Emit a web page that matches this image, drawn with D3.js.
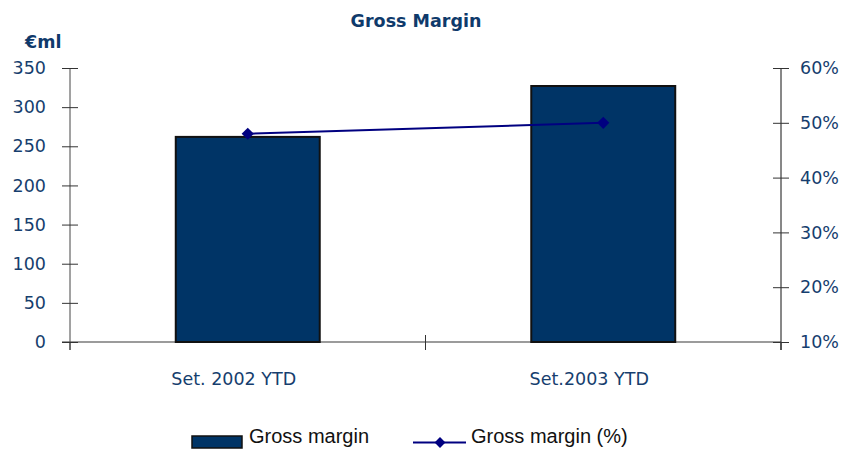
<!DOCTYPE html>
<html>
<head>
<meta charset="utf-8">
<script src="https://cdn.jsdelivr.net/npm/d3@7"></script>
<style>
  body { margin: 0; background: #fff; }
  svg text { font-family: "DejaVu Sans", Verdana, sans-serif; }
</style>
</head>
<body>
<div id="content"></div>
<script>
// chart values
const categories = ["Set. 2002 YTD", "Set.2003 YTD"];
const grossMargin = [262, 327];          // €ml
const grossMarginPct = [0.48, 0.50];     // %
const leftTicks = [0, 50, 100, 150, 200, 250, 300, 350];
const rightTicks = [0.1, 0.2, 0.3, 0.4, 0.5, 0.6];

var width = 843, height = 450;
var plot = { left: 70, right: 781, top: 68, bottom: 342 };
var textColor = "#163e6e";

var svg = d3.select("#content").append("svg")
    .attr("width", width)
    .attr("height", height);

var xCat = d3.scaleBand()
    .domain(categories)
    .range([plot.left, plot.right]);

var xBar = d3.scaleBand()
    .domain(categories)
    .range([plot.left, plot.right])
    .paddingInner(0.595)
    .paddingOuter(0.2975);

var yLeft = d3.scaleLinear().domain([0, 350]).range([plot.bottom, plot.top]);
var yRight = d3.scaleLinear().domain([0.1, 0.6]).range([plot.bottom, plot.top]);

// title
svg.append("text")
    .attr("x", 416).attr("y", 27)
    .attr("text-anchor", "middle")
    .style("font-weight", "bold")
    .style("font-size", "17.5px")
    .attr("fill", "#0f3a6b")
    .text("Gross Margin");

svg.append("text")
    .attr("x", 25).attr("y", 48)
    .style("font-weight", "bold")
    .style("font-size", "17.5px")
    .attr("fill", "#0f3a6b")
    .text("€ml");

// x axis line + category ticks
svg.append("line")
    .attr("x1", plot.left - 8).attr("x2", plot.right)
    .attr("y1", plot.bottom).attr("y2", plot.bottom)
    .attr("stroke", "#7a7a7a").attr("stroke-width", 1.5);

var bounds = categories.map(c => xCat(c)).concat([plot.right]);
svg.append("g").selectAll("line")
    .data(bounds)
    .enter().append("line")
    .attr("x1", d => d).attr("x2", d => d)
    .attr("y1", (d, i) => (i == 1 ? plot.bottom - 7 : plot.bottom))
    .attr("y2", plot.bottom + 8)
    .attr("stroke", "#333").attr("stroke-width", 1);

svg.append("g").selectAll("text")
    .data(categories)
    .enter().append("text")
    .attr("x", d => xCat(d) + xCat.bandwidth() / 2 - 14)
    .attr("y", 385)
    .attr("text-anchor", "middle")
    .style("font-size", "17.5px")
    .attr("fill", textColor)
    .text(d => d);

// bars
svg.append("g").selectAll("rect")
    .data(grossMargin)
    .enter().append("rect")
    .attr("x", (d, i) => xBar(categories[i]))
    .attr("width", xBar.bandwidth())
    .attr("y", d => yLeft(d))
    .attr("height", d => yLeft(0) - yLeft(d))
    .attr("fill", "#003466")
    .attr("stroke", "#111")
    .attr("stroke-width", 2);

// left axis
var leftAxis = svg.append("g")
    .attr("transform", "translate(" + plot.left + ",0)")
    .call(d3.axisLeft(yLeft).tickValues(leftTicks).tickSize(0).tickPadding(24));
leftAxis.select(".domain").attr("stroke", "#444").attr("d", "M0," + plot.top + "V" + (plot.bottom + 8));
leftAxis.selectAll(".tick line").attr("x1", -8).attr("x2", 8).attr("stroke", "#333");
leftAxis.selectAll(".tick text").style("font-size", "17.5px").attr("fill", textColor);

// right axis
var rightAxis = svg.append("g")
    .attr("transform", "translate(" + plot.right + ",0)")
    .call(d3.axisRight(yRight).tickValues(rightTicks).tickSize(0).tickPadding(19)
        .tickFormat(d3.format(".0%")));
rightAxis.select(".domain").attr("stroke", "#111").attr("d", "M0," + plot.top + "V" + (plot.bottom + 8));
rightAxis.selectAll(".tick line").attr("x1", -8).attr("x2", 8).attr("stroke", "#333");
rightAxis.selectAll(".tick text").style("font-size", "17.5px").attr("fill", textColor);

// margin % line
var line = d3.line()
    .x((d, i) => xCat(categories[i]) + xCat.bandwidth() / 2)
    .y(d => yRight(d));

svg.append("path")
    .datum(grossMarginPct)
    .attr("d", line)
    .attr("fill", "none")
    .attr("stroke", "#000080")
    .attr("stroke-width", 2);

var diamond = d3.symbol().type(d3.symbolDiamond2).size(95);
svg.append("g").selectAll("path")
    .data(grossMarginPct)
    .enter().append("path")
    .attr("d", diamond)
    .attr("transform", (d, i) => "translate(" + (xCat(categories[i]) + xCat.bandwidth() / 2) + "," + yRight(d) + ")")
    .attr("fill", "#000080");

// legend
var legend = svg.append("g");
legend.append("rect")
    .attr("x", 192).attr("y", 436).attr("width", 50).attr("height", 12)
    .attr("fill", "#003466").attr("stroke", "#111").attr("stroke-width", 1.5);
legend.append("text")
    .attr("x", 249).attr("y", 443)
    .style("font-family", "'Liberation Sans', Arial, sans-serif")
    .style("font-size", "20px")
    .attr("fill", "#111")
    .text("Gross margin");
legend.append("line")
    .attr("x1", 413).attr("x2", 466).attr("y1", 442.5).attr("y2", 442.5)
    .attr("stroke", "#000080").attr("stroke-width", 2);
legend.append("path")
    .attr("d", d3.symbol().type(d3.symbolDiamond2).size(75))
    .attr("transform", "translate(440,442.5)")
    .attr("fill", "#000080");
legend.append("text")
    .attr("x", 471).attr("y", 443)
    .style("font-family", "'Liberation Sans', Arial, sans-serif")
    .style("font-size", "20px")
    .attr("fill", "#111")
    .text("Gross margin (%)");
</script>
</body>
</html>
